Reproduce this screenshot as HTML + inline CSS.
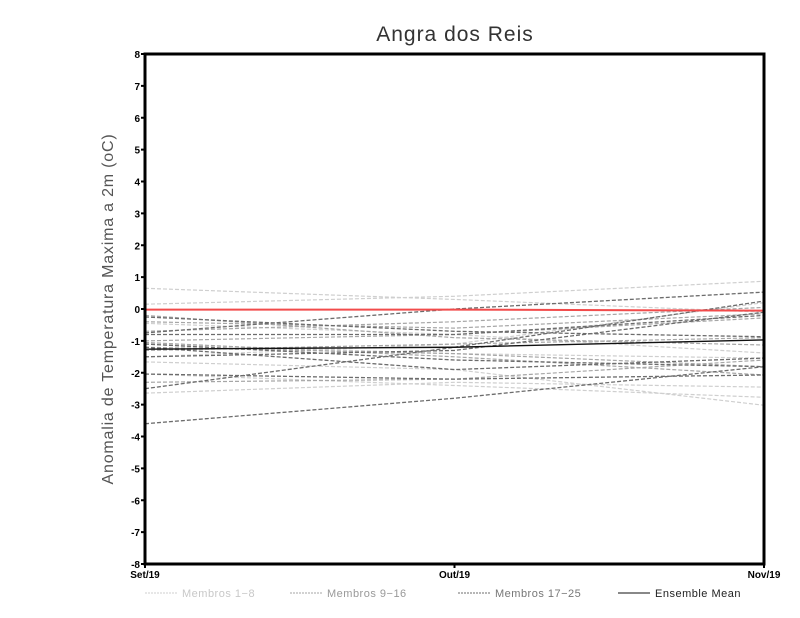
<!DOCTYPE html>
<html><head><meta charset="utf-8"><style>body{margin:0;background:#fff}svg{display:block;font-family:"Liberation Sans",sans-serif}</style></head>
<body>
<svg id="chart" width="800" height="618"></svg>
<script>
const categories=["Set/19","Out/19","Nov/19"];
const yTicks=[8,7,6,5,4,3,2,1,0,-1,-2,-3,-4,-5,-6,-7,-8];
const members1=[[0.65,0.3,-0.1],[0.15,0.4,0.87],[-1.66,-1.9,-3.02],[-2.64,-2.3,-2.45],[-1.1,-1.4,-1.54],[-2.04,-2.4,-2.77],[-0.45,-0.8,-1.38],[-1.5,-1.1,0.2]];
const members2=[[-0.2,-0.9,-1.13],[-1.0,-0.8,-0.28],[-1.2,-1.4,-1.81],[-0.7,-0.4,0.05],[-2.3,-2.2,-1.6],[-1.05,-1.5,-2.07],[-0.4,-0.6,-0.15],[-1.3,-1.1,-0.9]];
const members3=[[-0.25,-0.7,-0.87],[-0.75,0.0,0.53],[-1.5,-1.3,-0.1],[-2.5,-1.2,0.25],[-3.6,-2.8,-1.81],[-2.04,-2.2,-2.07],[-0.8,-0.8,-0.2],[-1.1,-1.6,-1.81],[-1.2,-1.9,-1.54]];
const ensembleMean=[-1.26,-1.2,-0.97];
const observed=[-0.02,-0.02,-0.05];
const NS="http://www.w3.org/2000/svg",svg=document.getElementById('chart');
const X0=145,X1=764,Y0=54,Y1=564;
const xs=i=>X0+(X1-X0)*i/(categories.length-1);
const ys=v=>Y1-(v+8)/16*(Y1-Y0);
function mk(t,a,p){const e=document.createElementNS(NS,t);for(const k in a)e.setAttribute(k,a[k]);(p||svg).appendChild(e);return e;}
function line(vals,stroke,w,dash,name){const el=mk('polyline',{points:vals.map((v,i)=>xs(i)+','+ys(v)).join(' '),fill:'none',stroke:stroke,'stroke-width':w,'stroke-dasharray':dash||'none'});

}
members1.forEach((m,i)=>line(m,'#cfcfcf',1.2,'4,2','member-'+(i+1)));
members2.forEach((m,i)=>line(m,'#a6a6a6',1.2,'4,2','member-'+(i+9)));
members3.forEach((m,i)=>line(m,'#6c6c6c',1.3,'4,2','member-'+(i+17)));
line(ensembleMean,'#111',1.4,null,'ensemble-mean-line');
line(observed,'#f24b4b',2,null,'observed-line');
const fr=mk('rect',{x:X0,y:Y0,width:X1-X0,height:Y1-Y0,fill:'none',stroke:'#000','stroke-width':3});


yTicks.forEach(v=>{mk('line',{x1:X0-4,x2:X0,y1:ys(v),y2:ys(v),stroke:'#000','stroke-width':2});
const t=mk('text',{x:X0-5,y:ys(v)+4,'text-anchor':'end','font-size':10,'font-weight':'bold'});t.textContent=v;

});
categories.forEach((c,i)=>{mk('line',{x1:xs(i),x2:xs(i),y1:Y1,y2:Y1+4,stroke:'#000','stroke-width':2});
const t=mk('text',{x:xs(i),y:Y1+14,'text-anchor':'middle','font-size':10,'font-weight':'bold'});t.textContent=c;

});
const ti=mk('text',{x:455,y:41,'text-anchor':'middle','font-size':21,fill:'#333','letter-spacing':'1'});ti.textContent='Angra dos Reis';


const yl=mk('text',{x:0,y:0,transform:'translate(113,309) rotate(-90)','text-anchor':'middle','font-size':16,fill:'#555','letter-spacing':'0.8'});yl.textContent='Anomalia de Temperatura Maxima a 2m (oC)';


const leg=[['Membros 1-8','#cfcfcf','2,1',145,'#c8c8c8'],['Membros 9-16','#a6a6a6','2,1',290,'#999'],['Membros 17-25','#6c6c6c','2,1',458,'#777'],['Ensemble Mean','#111','none',618,'#222']];
leg.forEach(l=>{const g=mk('g',{});


mk('line',{x1:l[3],x2:l[3]+32,y1:593,y2:593,stroke:l[1],'stroke-width':1,'stroke-dasharray':l[2]},g);
const t=mk('text',{x:l[3]+37,y:597,'font-size':11,fill:l[4],'letter-spacing':'0.5'},g);t.textContent=l[0].replace('-','\u2212');});
</script>
</body></html>
